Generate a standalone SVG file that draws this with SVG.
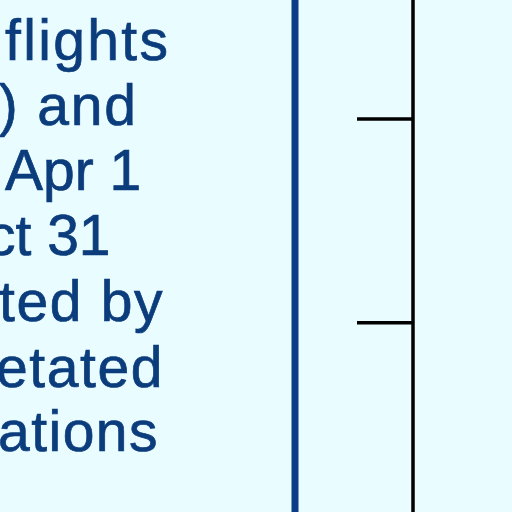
<svg xmlns="http://www.w3.org/2000/svg" width="512" height="512" viewBox="0 0 512 512">
<style>
.t{font-family:"Liberation Sans",Arial,sans-serif;font-size:57px;fill:#0b3c7c;stroke:#0b3c7c;stroke-width:0.7}
.k{stroke:#000;stroke-width:3.5;fill:none}
</style>
<rect width="512" height="512" fill="#e9fcff"/>
<g id="label">
<text class="t" x="5" y="60" textLength="163">flights</text>
<text class="t" x="-22" y="125" textLength="158">r) and</text>
<text class="t" x="5" y="190">Apr 1</text>
<text class="t" x="-13" y="255">ct 31</text>
<text class="t" x="-1" y="321" textLength="163.5">ted by</text>
<text class="t" x="-4" y="387" textLength="166.5">etated</text>
<text class="t" x="-2" y="451" textLength="159.5">ations</text>
</g>
<g id="divider">
<line x1="295" y1="0" x2="295" y2="512" stroke="#0b3c88" stroke-width="7"/>
</g>
<g id="connectors">
<line class="k" x1="413" y1="0" x2="413" y2="512"/>
<line class="k" x1="357" y1="119" x2="413" y2="119" stroke-width="4.5"/>
<line class="k" x1="357" y1="322.8" x2="413" y2="322.8"/>
</g>
</svg>
